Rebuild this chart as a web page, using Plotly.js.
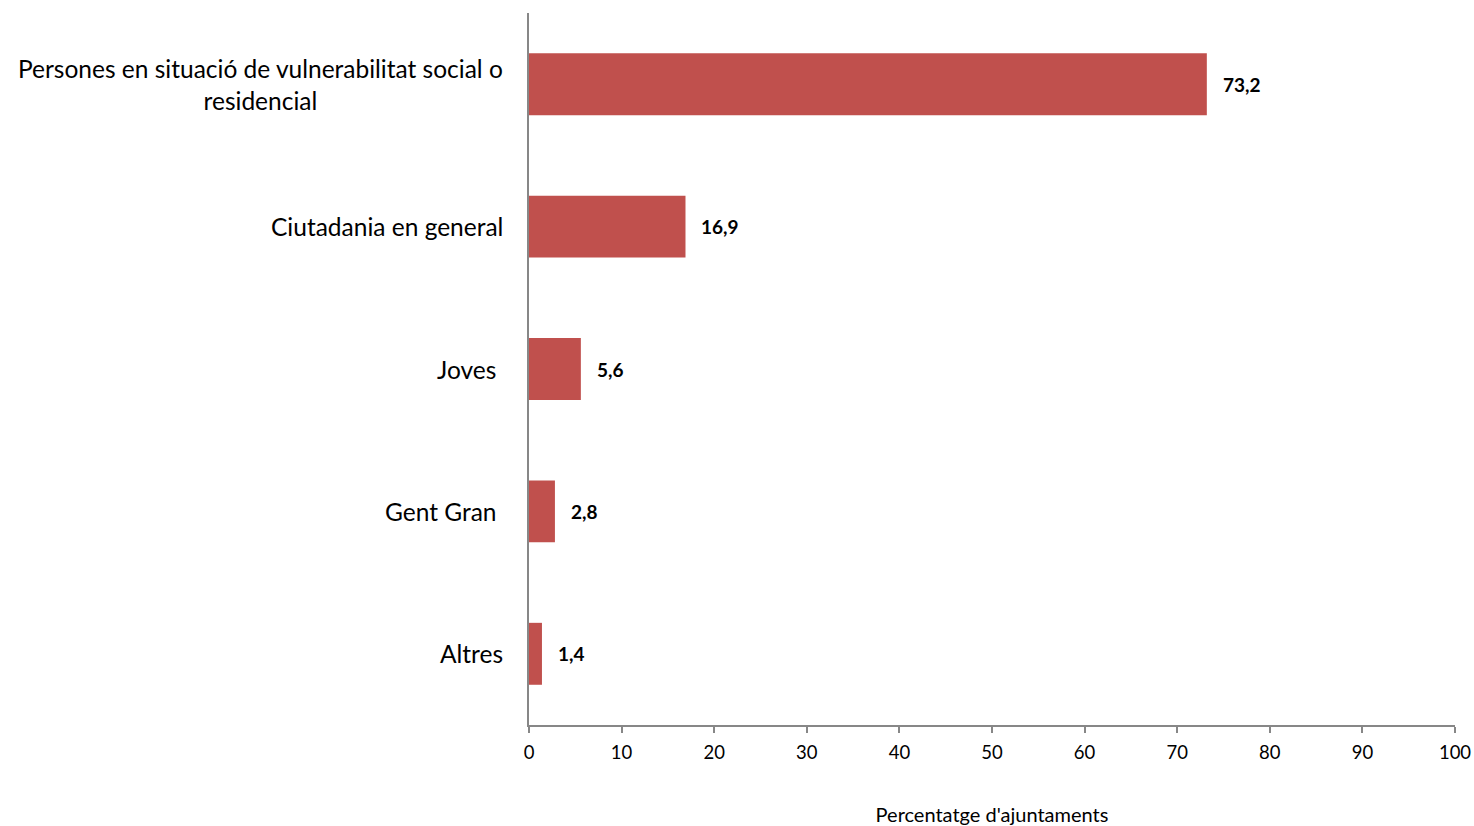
<!DOCTYPE html>
<html>
<head>
<meta charset="utf-8">
<script src="https://cdn.plot.ly/plotly-3.0.1.min.js"></script>
<style>html,body{margin:0;padding:0;background:#fff;}#chart{width:1474px;height:826px;}</style>
</head>
<body>
<div id="chart"></div>
<script>
const categories = [
  "Persones en situació de vulnerabilitat social o<br>residencial",
  "Ciutadania en general",
  "Joves\u00a0",
  "Gent Gran\u00a0",
  "Altres"
];
const values = [73.2, 16.9, 5.6, 2.8, 1.4];
const xTickValues = [0,10,20,30,40,50,60,70,80,90,100];
const xTitle = "Percentatge d'ajuntaments";

const FONT = "Lato, 'Open Sans', sans-serif";

const trace = {
  type: 'bar',
  orientation: 'h',
  x: values,
  y: categories,
  marker: {color: '#C0504D'},
  hoverinfo: 'x'
};

const annotations = [];
categories.forEach((c, i) => {
  annotations.push({
    xref: 'paper', yref: 'y', x: 0, y: c,
    xanchor: 'right', yanchor: 'middle', xshift: -24,
    text: c, showarrow: false, align: 'center',
    font: {family: FONT, size: 24.5, color: '#000'}
  });
  annotations.push({
    xref: 'x', yref: 'y', x: values[i], y: c,
    xanchor: 'left', yanchor: 'middle', xshift: 14,
    text: '<b>' + values[i].toFixed(1).replace('.', ',') + '</b>',
    showarrow: false,
    font: {family: FONT, size: 19, color: '#000'}
  });
});

const layout = {
  width: 1474, height: 826,
  margin: {l: 529, r: 19, t: 13, b: 101},
  paper_bgcolor: '#fff', plot_bgcolor: '#fff',
  showlegend: false,
  bargap: 0.565,
  font: {family: FONT, color: '#000'},
  xaxis: {
    range: [0, 100],
    tickvals: xTickValues,
    showgrid: false, zeroline: false,
    showline: true, linecolor: '#878787', linewidth: 2,
    ticks: 'outside', ticklen: 6, tickcolor: '#878787', tickwidth: 2,
    ticklabelstandoff: 4,
    tickfont: {family: FONT, size: 18.5, color: '#000'},
    title: {text: xTitle, font: {family: FONT, size: 20, color: '#000'}, standoff: 50},
    fixedrange: true
  },
  yaxis: {
    categoryorder: 'array', categoryarray: categories.slice().reverse(),
    showgrid: false, zeroline: false,
    showline: true, linecolor: '#878787', linewidth: 2,
    ticks: '', showticklabels: false,
    fixedrange: true
  },
  annotations: annotations
};

Plotly.newPlot('chart', [trace], layout, {displayModeBar: false, staticPlot: true});
</script>
</body>
</html>
